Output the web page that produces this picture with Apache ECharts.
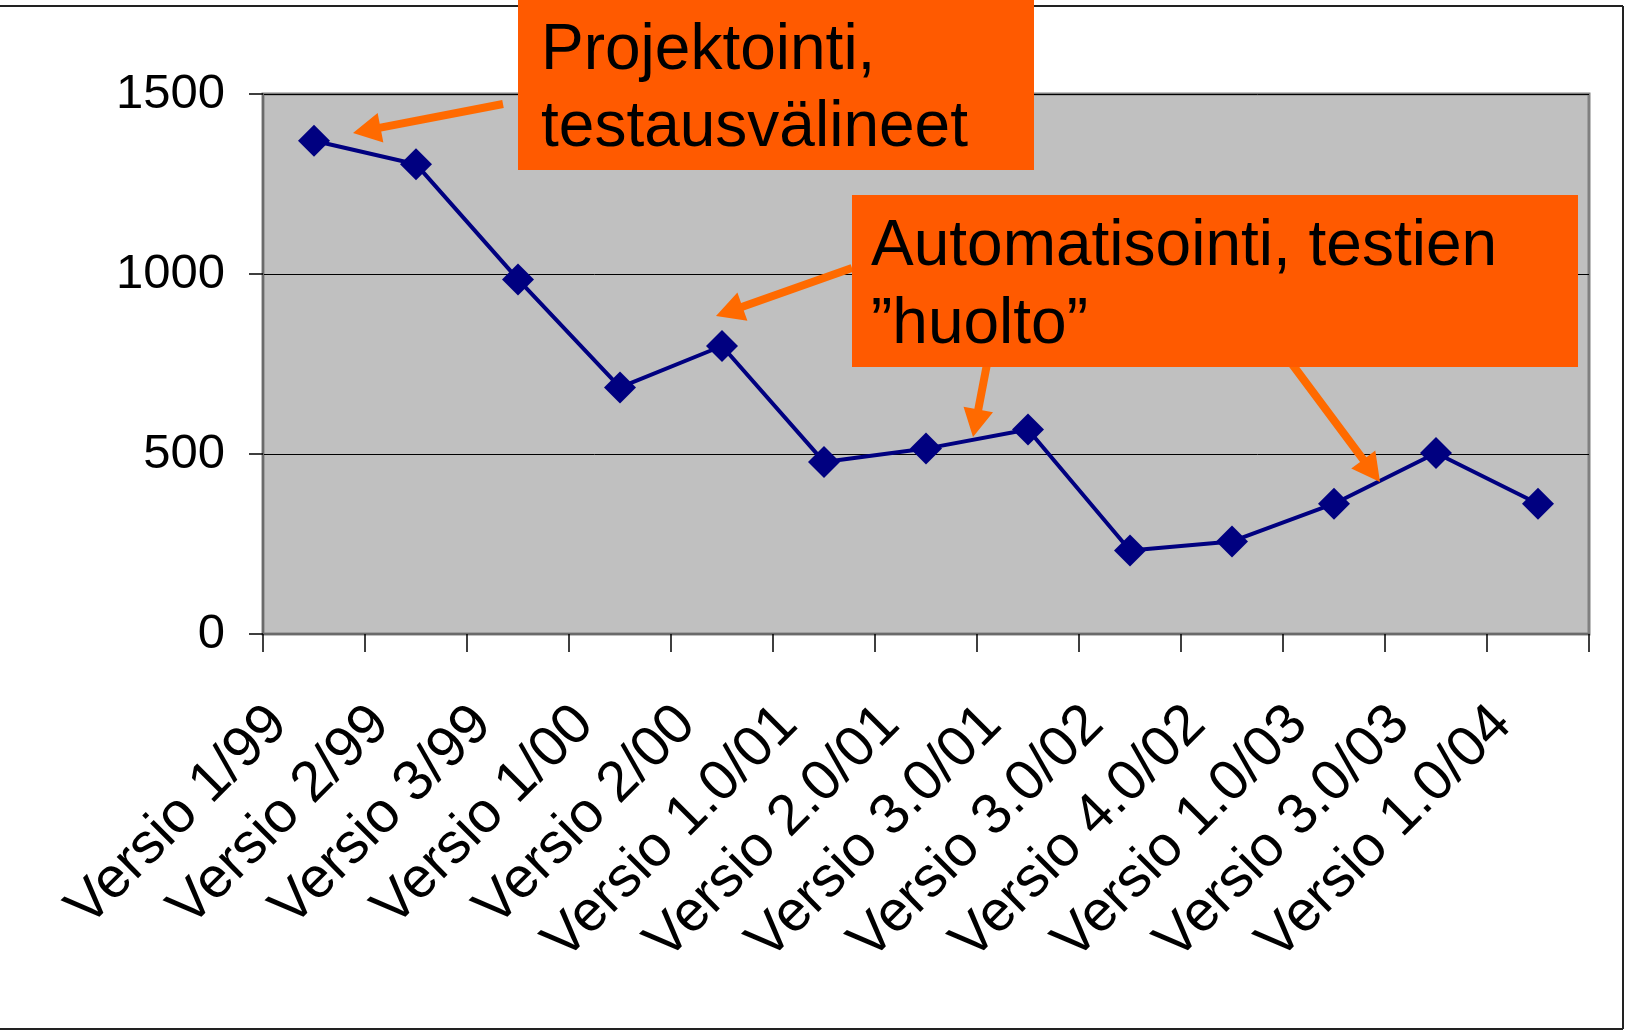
<!DOCTYPE html>
<html>
<head>
<meta charset="utf-8">
<script src="https://cdn.jsdelivr.net/npm/echarts@6/dist/echarts.min.js"></script>
<style>
  html, body { margin: 0; padding: 0; background: #fff; }
  #chart { width: 1626px; height: 1031px; }
</style>
</head>
<body>
<div id="chart"></div>
<script>
// data
const categories = ['Versio 1/99', 'Versio 2/99', 'Versio 3/99', 'Versio 1/00', 'Versio 2/00',
  'Versio 1.0/01', 'Versio 2.0/01', 'Versio 3.0/01', 'Versio 3.0/02', 'Versio 4.0/02',
  'Versio 1.0/03', 'Versio 3.0/03', 'Versio 1.0/04']
const values = [1370, 1305, 985, 685, 800, 478, 515, 568, 232, 257, 362, 503, 362]
const yTicks = [0, 500, 1000, 1500]

const boxFill = '#FF5A00'
const arrowColor = '#FF6A00'
const font = 'Liberation Sans, Arial, sans-serif'

// arrow annotations [tailX, tailY, tipX, tipY]
const arrows = [
  [503, 104, 353, 133],
  [852, 268, 716, 316],
  [987, 364, 973, 437],
  [1292, 364, 1380, 482]
]

function arrowShape(a) {
  let [x1, y1, x2, y2] = a
  let dx = x2 - x1, dy = y2 - y1
  let len = Math.sqrt(dx * dx + dy * dy)
  let ux = dx / len, uy = dy / len
  let nx = -uy, ny = ux
  let hw = 4, headLen = 28, headW = 15
  let bx = x2 - ux * headLen, by = y2 - uy * headLen
  return [
    [x1 + nx * hw, y1 + ny * hw],
    [bx + nx * hw, by + ny * hw],
    [bx + nx * headW, by + ny * headW],
    [x2, y2],
    [bx - nx * headW, by - ny * headW],
    [bx - nx * hw, by - ny * hw],
    [x1 - nx * hw, y1 - ny * hw]
  ]
}

function calloutText(x, y, text) {
  return { type: 'text', x: x, y: y, style: { text: text, font: '64px ' + font, fill: '#000', verticalAlign: 'middle' }, z: 101 }
}

const graphics = [
  // outer frame
  { type: 'line', shape: { x1: 0, y1: 6, x2: 1623, y2: 6 }, style: { stroke: '#222', lineWidth: 2 }, z: 50 },
  { type: 'line', shape: { x1: 1623, y1: 6, x2: 1623, y2: 1029 }, style: { stroke: '#222', lineWidth: 2 }, z: 50 },
  { type: 'line', shape: { x1: 0, y1: 1029, x2: 1623, y2: 1029 }, style: { stroke: '#222', lineWidth: 2 }, z: 50 },
  // callout boxes
  { type: 'rect', shape: { x: 518, y: 0, width: 516, height: 170 }, style: { fill: boxFill }, z: 100 },
  calloutText(541, 51, 'Projektointi,'),
  calloutText(541, 128, 'testausvälineet'),
  { type: 'rect', shape: { x: 852, y: 195, width: 726, height: 172 }, style: { fill: boxFill }, z: 100 },
  calloutText(871, 247, 'Automatisointi, testien'),
  calloutText(871, 325, '\u201Dhuolto\u201D')
]
arrows.forEach(a => {
  graphics.push({ type: 'polygon', shape: { points: arrowShape(a) }, style: { fill: arrowColor }, z: 90 })
})

const option = {
  animation: false,
  backgroundColor: '#fff',
  grid: {
    left: 263, right: 37, top: 94, bottom: 397,
    show: true,
    backgroundColor: '#C0C0C0',
    borderColor: '#808080',
    borderWidth: 3,
    outerBoundsMode: 'none'
  },
  xAxis: {
    type: 'category',
    data: categories,
    boundaryGap: true,
    axisLine: { lineStyle: { color: '#6a6a6a', width: 2 } },
    axisTick: { show: true, length: 18, lineStyle: { color: '#000', width: 1.5 } },
    axisLabel: {
      interval: 0,
      rotate: 45,
      margin: 46,
      padding: [0, 50, 0, 0],
      fontSize: 57,
      fontFamily: font,
      color: '#000'
    }
  },
  yAxis: {
    type: 'value',
    min: 0,
    max: 1500,
    interval: 500,
    axisLine: { show: true, lineStyle: { color: '#6a6a6a', width: 2 } },
    axisTick: { show: true, length: 14, lineStyle: { color: '#000', width: 1.5 } },
    axisLabel: {
      margin: 38,
      fontSize: 49,
      fontFamily: font,
      color: '#000',
      formatter: v => yTicks.includes(v) ? String(v) : ''
    },
    splitLine: { show: true, lineStyle: { color: '#000', width: 1 } }
  },
  series: [
    {
      type: 'line',
      data: values,
      symbol: 'diamond',
      symbolSize: 32,
      lineStyle: { color: '#000080', width: 4 },
      itemStyle: { color: '#000080' },
      z: 10
    }
  ],
  graphic: graphics
}

let chart = echarts.init(document.getElementById('chart'))
chart.setOption(option)
</script>
</body>
</html>
